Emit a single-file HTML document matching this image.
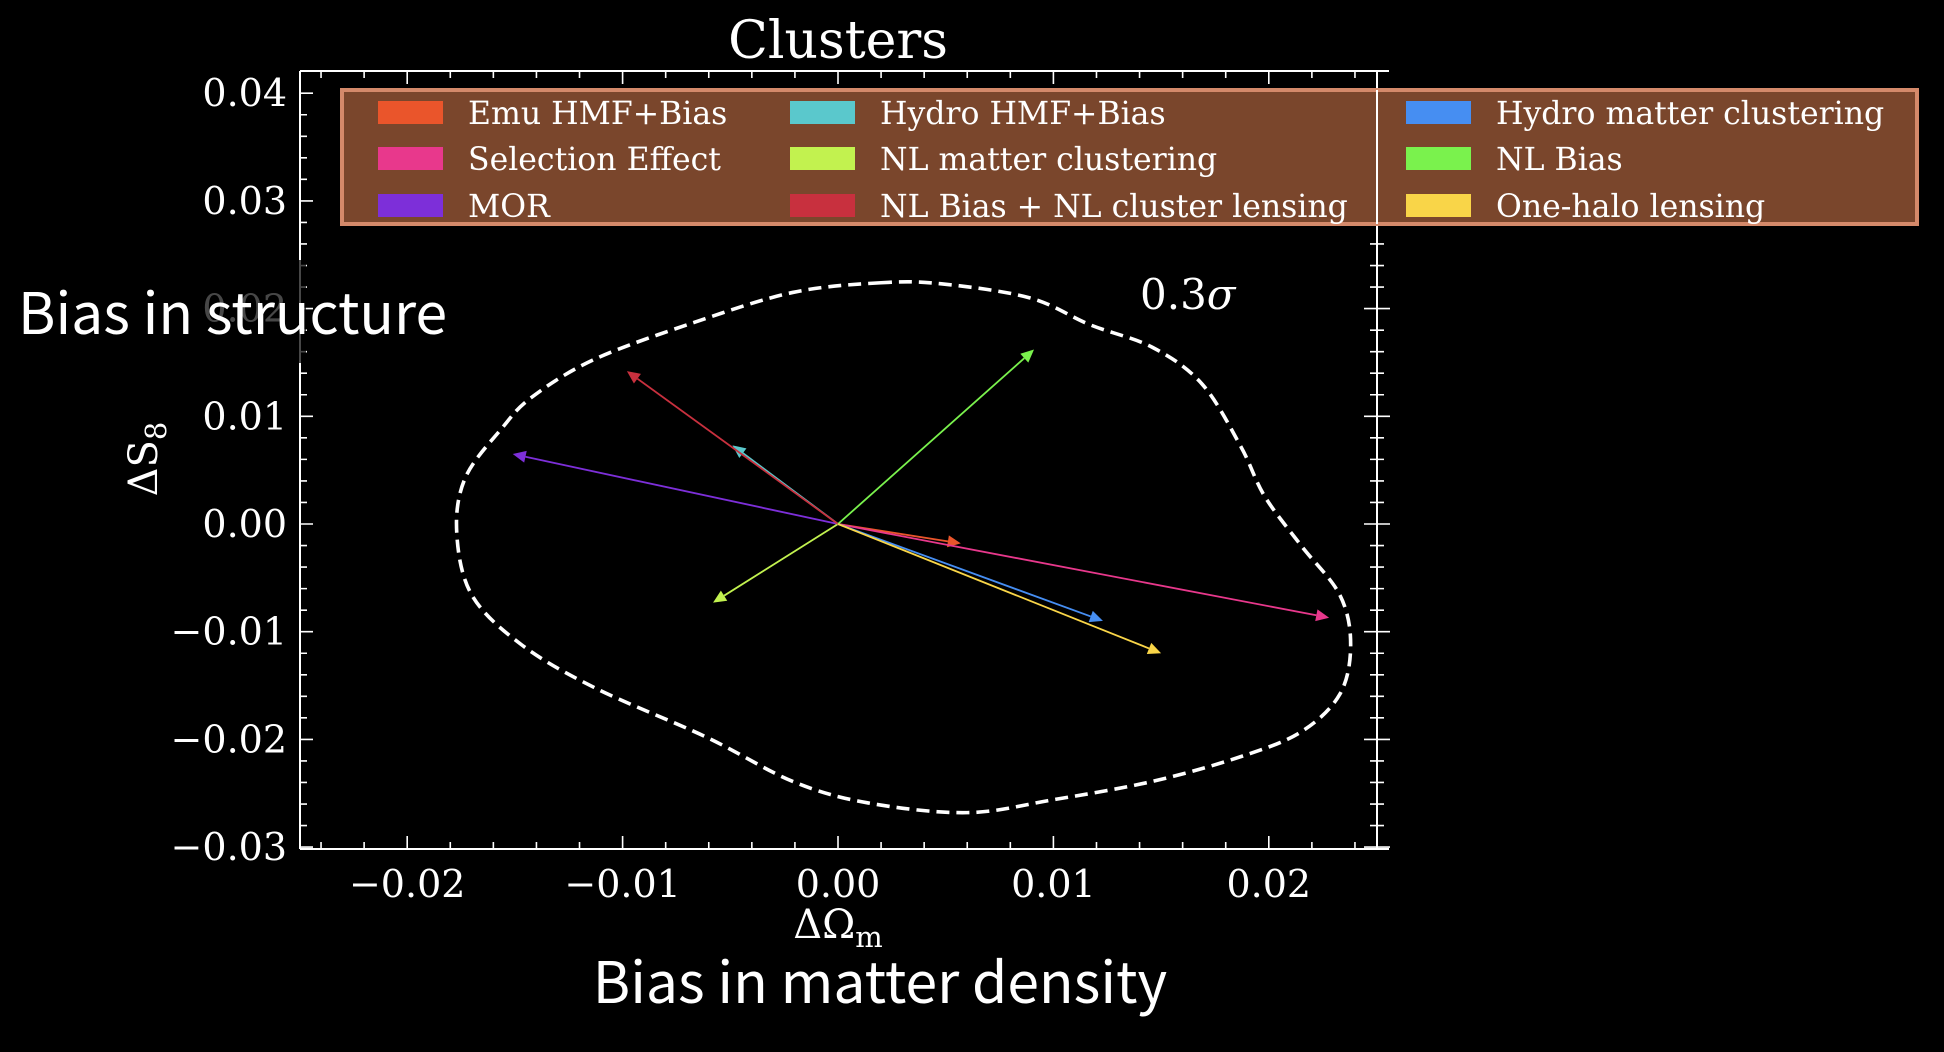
<!DOCTYPE html>
<html><head><meta charset="utf-8"><style>
html,body{margin:0;padding:0;background:#000;}
svg{display:block;}
.serif{font-family:"DejaVu Serif","Liberation Serif",serif;fill:#fff;}
.sans{font-family:"Noto Sans CJK JP","DejaVu Sans","Liberation Sans",sans-serif;fill:#fff;}
</style></head><body>
<svg id="chart" width="1944" height="1052" viewBox="0 0 1944 1052" xmlns="http://www.w3.org/2000/svg">
<rect width="1944" height="1052" fill="#000"/>
<g id="axes"></g>
<g id="contour"></g>
<g id="arrows"></g>
<text x="838" y="58" class="serif" font-size="52" text-anchor="middle">Clusters</text>
<text x="1140" y="309" class="serif" font-size="42">0.3<tspan font-style="italic">σ</tspan></text>
<text x="838" y="938" class="serif" font-size="40" text-anchor="middle">ΔΩ<tspan font-size="29" dy="9">m</tspan></text>
<text transform="translate(157,459) rotate(-90)" class="serif" font-size="40" text-anchor="middle">ΔS<tspan font-size="29" dy="9">8</tspan></text>
<rect x="150" y="260" width="156" height="103" fill="#000" opacity="0.72"/>
<text x="18" y="334" class="sans" font-size="57">Bias in structure</text>
<text x="880" y="1003" class="sans" font-size="57" text-anchor="middle">Bias in matter density</text>
<g id="legend">
<rect x="342" y="90" width="1575" height="134" fill="#7a462c" stroke="#d4896a" stroke-width="4"/>
</g>
</svg>
<script>
const categories = ["Emu HMF+Bias","Selection Effect","MOR","Hydro HMF+Bias","NL matter clustering","NL Bias + NL cluster lensing","Hydro matter clustering","NL Bias","One-halo lensing"];
const colors = ["#ea552b","#e8388c","#7d2fd9","#5ac8cc","#c2f24f","#c8303e","#468ef2","#7af24d","#f9d548"];
const dOmega = [0.0057,0.0228,-0.0151,-0.0049,-0.0058,-0.0098,0.0123,0.0091,0.0150];
const dS8 = [-0.0018,-0.0087,0.0065,0.0073,-0.0073,0.0142,-0.0090,0.0162,-0.0120];
const contourX = [0.0020,-0.0021,-0.0067,-0.0113,-0.0142,-0.0156,-0.0173,-0.0177,-0.0170,-0.0147,-0.0113,-0.0061,-0.0021,0.0014,0.0060,0.0100,0.0146,0.0187,0.0215,0.0233,0.0238,0.0233,0.0215,0.0198,0.0187,0.0169,0.0146,0.0117,0.0089,0.0048];
const contourY = [0.0224,0.0215,0.0187,0.0153,0.0118,0.0089,0.0043,-0.0008,-0.0066,-0.0112,-0.0152,-0.0198,-0.0239,-0.0259,-0.0268,-0.0256,-0.0239,-0.0216,-0.0193,-0.0158,-0.0112,-0.0066,-0.0020,0.0026,0.0072,0.0130,0.0164,0.0185,0.0210,0.0223];
const xTicks = [-0.02,-0.01,0.00,0.01,0.02];
const xTickLabels = ["\u22120.02","\u22120.01","0.00","0.01","0.02"];
const yTicks = [-0.03,-0.02,-0.01,0.00,0.01,0.02,0.03,0.04];
const yTickLabels = ["\u22120.03","\u22120.02","\u22120.01","0.00","0.01","0.02","0.03","0.04"];

const NS="http://www.w3.org/2000/svg";
const L=300,R=1377,T=71,B=849;
function sx(v){return 838+v*21540;}
function sy(v){return 524-v*10770;}
function mk(tag,attrs,parent){const e=document.createElementNS(NS,tag);for(const k in attrs)e.setAttribute(k,attrs[k]);parent.appendChild(e);return e;}
const axes=document.getElementById('axes');
const sp=mk('path',{d:`M${L},${T}H1389M${L},${B}H1389M${L},${T}V${B}M${R},${T}V${B}`,stroke:'#fff','stroke-width':2,fill:'none'},axes);


let td='';
for(let v=-0.024;v<=0.0245;v+=0.002){const x=sx(v);const maj=Math.abs(Math.round(v*1000)%10)===0;const len=maj?13:7;td+=`M${x},${B}v${-len}M${x},${T}v${len}`;}
for(let v=-0.03;v<=0.0415;v+=0.002){const y=sy(v);const maj=Math.abs(Math.round(v*1000)%10)===0;const len=maj?13:7;td+=`M${L},${y}h${len}M${R-len},${y}h${len*2}`;}
const tk=mk('path',{d:td,stroke:'#fff','stroke-width':1.6,fill:'none'},axes);


xTicks.forEach((v,i)=>{const t=mk('text',{x:sx(v),y:897,'text-anchor':'middle','font-size':38,class:'serif'},axes);t.textContent=xTickLabels[i];

});
yTicks.forEach((v,i)=>{const t=mk('text',{x:287,y:sy(v)+13,'text-anchor':'end','font-size':38,class:'serif'},axes);t.textContent=yTickLabels[i];

});
const pts=contourX.map((x,i)=>[sx(x),sy(contourY[i])]);const n=pts.length;
let d=`M${pts[0][0]},${pts[0][1]}`;
for(let i=0;i<n;i++){const p0=pts[(i-1+n)%n],p1=pts[i],p2=pts[(i+1)%n],p3=pts[(i+2)%n];
d+=`C${p1[0]+(p2[0]-p0[0])/6},${p1[1]+(p2[1]-p0[1])/6} ${p2[0]-(p3[0]-p1[0])/6},${p2[1]-(p3[1]-p1[1])/6} ${p2[0]},${p2[1]}`;}
const c=mk('path',{d:d+'Z',stroke:'#fff','stroke-width':3.6,fill:'none','stroke-dasharray':'13 7'},document.getElementById('contour'));


const ag=document.getElementById('arrows');
categories.forEach((name,i)=>{
 const x0=sx(0),y0=sy(0),x1=sx(dOmega[i]),y1=sy(dS8[i]);
 const ang=Math.atan2(y1-y0,x1-x0),hl=13,hw=6;
 const bx=x1-hl*Math.cos(ang),by=y1-hl*Math.sin(ang);
 const g=mk('g',{},ag);
 
 
 mk('line',{x1:x0,y1:y0,x2:bx,y2:by,stroke:colors[i],'stroke-width':1.8},g);
 const px=-Math.sin(ang)*hw,py=Math.cos(ang)*hw;
 mk('polygon',{points:`${x1},${y1} ${bx+px},${by+py} ${bx-px},${by-py}`,fill:colors[i]},g);
});
const lg=document.getElementById('legend');
const colPatch=[378,790,1406],colText=[468,880,1496],rowY=[101,147,194];
categories.forEach((name,i)=>{
 const col=Math.floor(i/3),row=i%3;
 const g=mk('g',{},lg);
 
 
 mk('rect',{x:colPatch[col],y:rowY[row],width:65,height:23,fill:colors[i]},g);
 const t=mk('text',{x:colText[col],y:rowY[row]+23,'font-size':31.5,class:'serif'},g);t.textContent=name;
});
const sp2=mk('path',{d:`M${R},90V224`,stroke:'#fff','stroke-width':2},lg);


</script>
</body></html>
